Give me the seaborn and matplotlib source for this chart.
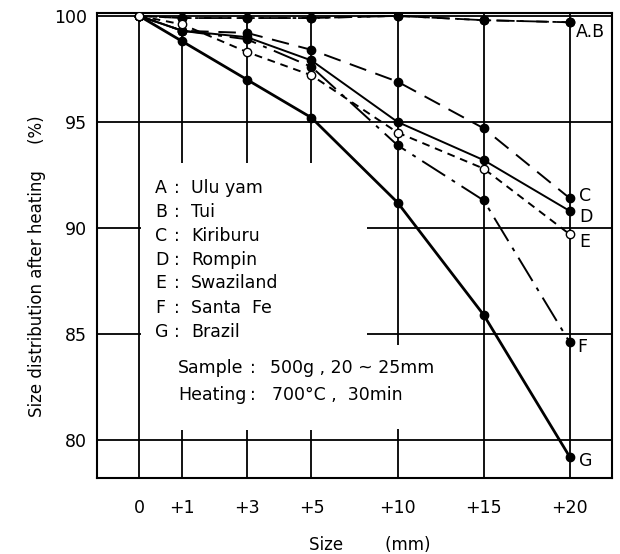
import numpy as np
import pandas as pd
import matplotlib
matplotlib.use("Agg")
import matplotlib.pyplot as plt
from matplotlib.patches import Rectangle
import seaborn as sns

# --- valores ---
sizes = [0, 1, 3, 5, 10, 15, 20]
size_labels = ['0', '+1', '+3', '+5', '+10', '+15', '+20']
y_ticks = [80, 85, 90, 95, 100]

ulu_yam = [100.0, 99.9, 99.9, 99.9, 100.0, 99.8, 99.7]
tui = [100.0, 99.9, 99.9, 99.9, 100.0, 99.8, 99.7]
kiriburu = [100.0, 99.3, 99.2, 98.4, 96.9, 94.7, 91.4]
rompin = [100.0, 99.3, 99.0, 97.9, 95.0, 93.2, 90.8]
swaziland = [100.0, 99.6, 98.3, 97.2, 94.5, 92.8, 89.7]
santa_fe = [100.0, 99.3, 98.9, 97.6, 93.9, 91.3, 84.6]
brazil = [100.0, 98.8, 97.0, 95.2, 91.2, 85.9, 79.2]

letters = ['A', 'B', 'C', 'D', 'E', 'F', 'G']
names = ['Ulu yam', 'Tui', 'Kiriburu', 'Rompin', 'Swaziland', 'Santa  Fe', 'Brazil']
end_labels = ['A.B', '', 'C', 'D', 'E', 'F', 'G']

series = [ulu_yam, tui, kiriburu, rompin, swaziland, santa_fe, brazil]
df = pd.DataFrame({
    'Size': sizes * len(series),
    'Value': np.concatenate(series),
    'Ore': np.repeat(letters, len(sizes)),
})

# escala do eixo x (espaçamento não linear do original)
tick_pos = [0, 0.5, 1.25, 2, 3, 4, 5]


def fwd(x):
    x = np.asarray(x, dtype=float)
    return np.where(x < 0, x * 0.5,
                    np.where(x > 20, 5 + (x - 20) / 5, np.interp(x, sizes, tick_pos)))


def inv(p):
    p = np.asarray(p, dtype=float)
    return np.where(p < 0, p * 2,
                    np.where(p > 5, 20 + (p - 5) * 5, np.interp(p, tick_pos, sizes)))


# estilo de cada curva
styles = {
    'A': dict(ls=(0, (7, 4)), lw=1.3, mfc='black', z=3),
    'B': dict(ls=(0, (10, 3, 2, 3)), lw=1.3, mfc='black', z=3),
    'C': dict(ls=(0, (9, 5)), lw=1.4, mfc='black', z=3),
    'D': dict(ls='-', lw=1.4, mfc='black', z=3),
    'E': dict(ls=(0, (4, 3)), lw=1.4, mfc='white', z=5),
    'F': dict(ls=(0, (14, 4, 2, 4)), lw=1.4, mfc='black', z=3),
    'G': dict(ls='-', lw=2.0, mfc='black', z=3),
}
# deslocamento (pixels) dos rótulos no fim das curvas
label_offsets = {'A.B': (6, -10), 'C': (9, 2), 'D': (9, -6), 'E': (9, -8), 'F': (7, -5), 'G': (9, -4)}

sns.set_style("white")
plt.rcParams['font.family'] = ['DejaVu Sans']
plt.rcParams.update({'text.color': 'black', 'axes.labelcolor': 'black',
                     'xtick.color': 'black', 'ytick.color': 'black'})

fig = plt.figure(figsize=(6.2, 5.54), dpi=100)
ax = fig.add_axes([0.1565, 0.1372, 0.8306, 0.8394])
ax.set_xscale('function', functions=(fwd, inv))
ax.set_xlim(-0.98, 22.45)
ax.set_ylim(78.21, 100.14)

for letter in letters:
    st = styles[letter]
    sub = df[df['Ore'] == letter]
    sns.lineplot(data=sub, x='Size', y='Value', ax=ax, color='black',
                 linestyle=st['ls'], linewidth=st['lw'], marker='o', markersize=6,
                 markerfacecolor=st['mfc'], markeredgecolor='black', markeredgewidth=1.0,
                 zorder=st['z'], legend=False)

for lab, vals in zip(end_labels, series):
    if lab:
        ax.annotate(lab, (sizes[-1], vals[-1]), xytext=label_offsets[lab],
                    textcoords='offset pixels', ha='left', va='center', fontsize=12.5, zorder=6)

# grade e moldura
ax.set_xticks(sizes)
ax.set_xticklabels(size_labels)
ax.set_yticks(y_ticks)
ax.grid(True, color='black', linewidth=1.3)
ax.set_axisbelow(True)
ax.tick_params(axis='both', length=0, labelsize=12.5, labelcolor='black')
ax.tick_params(axis='x', pad=15)
ax.tick_params(axis='y', pad=7)
for sp in ax.spines.values():
    sp.set_color('black')
    sp.set_linewidth(1.5)

# áreas brancas atrás do texto (a grade é interrompida no original)
ax.add_patch(Rectangle((0.05, 80.47), 8.2, 12.6, facecolor='white', edgecolor='none', zorder=1))
ax.add_patch(Rectangle((8.25, 80.5), 5.35, 4.0, facecolor='white', edgecolor='none', zorder=1))

# legenda em texto
row_y = [0.624, 0.572, 0.520, 0.469, 0.419, 0.366, 0.314]
for ly, letter, name in zip(row_y, letters, names):
    ax.text(0.113, ly, letter, transform=ax.transAxes, fontsize=12.5, va='center', zorder=6)
    ax.text(0.150, ly, ':', transform=ax.transAxes, fontsize=12.5, va='center', zorder=6)
    ax.text(0.183, ly, name, transform=ax.transAxes, fontsize=12.5, va='center', zorder=6)

ax.text(0.157, 0.237, 'Sample', transform=ax.transAxes, fontsize=12.5, va='center', zorder=6)
ax.text(0.298, 0.237, ':', transform=ax.transAxes, fontsize=12.5, va='center', zorder=6)
ax.text(0.336, 0.237, '500g , 20 ~ 25mm', transform=ax.transAxes, fontsize=12.5, va='center', zorder=6)
ax.text(0.157, 0.178, 'Heating', transform=ax.transAxes, fontsize=12.5, va='center', zorder=6)
ax.text(0.298, 0.178, ':', transform=ax.transAxes, fontsize=12.5, va='center', zorder=6)
ax.text(0.340, 0.178, '700°C ,  30min', transform=ax.transAxes, fontsize=12.5, va='center', zorder=6)

ax.set_xlabel('Size        (mm)', fontsize=12)
ax.set_ylabel('Size distribution after heating     (%)', fontsize=12)
ax.xaxis.set_label_coords(0.53, -0.125)
ax.yaxis.set_label_coords(-0.10, 0.456)

fig.savefig('out.png', dpi=100)
